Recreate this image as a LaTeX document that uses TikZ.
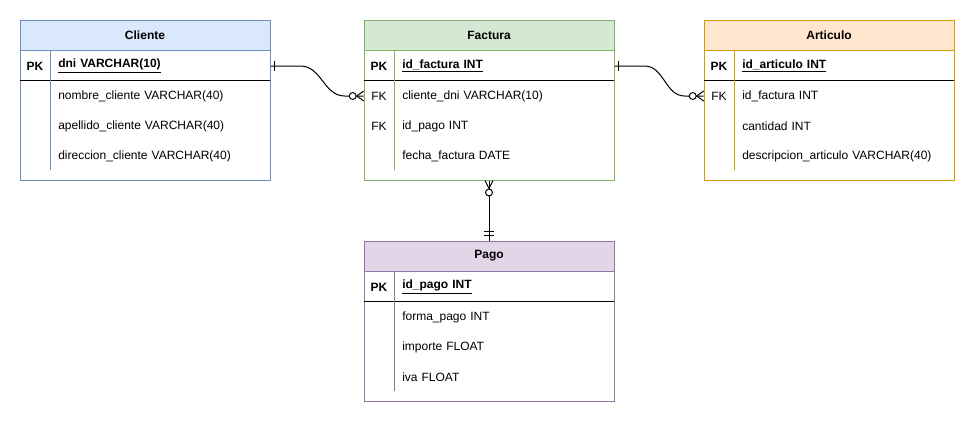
\documentclass[tikz,border=0pt]{standalone}
\usepackage{fontspec}
\setmainfont{Liberation Sans}
\usetikzlibrary{calc}
\definecolor{cliF}{HTML}{DAE8FC}\definecolor{cliS}{HTML}{6C8EBF}
\definecolor{facF}{HTML}{D5E8D4}\definecolor{facS}{HTML}{82B366}
\definecolor{artF}{HTML}{FFE6CC}\definecolor{artS}{HTML}{D79B00}
\definecolor{pagF}{HTML}{E1D5E7}\definecolor{pagS}{HTML}{9673A6}
\tikzset{
  tbox/.style={draw, line width=0.75pt, fill=white, minimum width=187.5pt, minimum height=120pt, inner sep=0pt},
  thdr/.style={draw, line width=0.75pt, minimum width=187.5pt, minimum height=22.5pt, inner sep=0pt, font=\fontsize{9pt}{11pt}\selectfont\bfseries},
  hsep/.style={line width=0.75pt, draw=black},
  vsep/.style={line width=0.75pt},
  keyc/.style={minimum width=22.5pt, inner sep=0pt, font=\fontsize{9pt}{11pt}\selectfont},
  fld/.style={anchor=west, inner sep=0pt, text width=159pt, align=left, font=\fontsize{9pt}{11pt}\selectfont},
  conn/.style={line width=0.75pt, draw=black},
}
\newcommand{\erframe}[6]{%
  \node[tbox, draw=#5] (#1) at (#2+125,#3+80) {};
  \node[thdr, fill=#4, draw=#5] (#1h) at (#2+125,#3+15) {#6};
  \draw[hsep] (#2,#3+60) -- (#2+250,#3+60);
  \draw[vsep, draw=#5] (#2+30,#3+30) -- (#2+30,#3+150);
}
\begin{document}
\begin{tikzpicture}[x=0.75pt,y=-0.75pt]
\useasboundingbox (0,0) rectangle (975,422);

% Cliente
\erframe{cli}{20}{20}{cliF}{cliS}{Cliente}
\node[keyc] (cliK0) at (35,66) {\textbf{PK}};
\node[fld] (cliF0) at (58,66) {\underline{\textbf{dni VARCHAR(10)}}};
\node[fld] (cliF1) at (58,96) {nombre\_cliente VARCHAR(40)};
\node[fld] (cliF2) at (58,126) {apellido\_cliente VARCHAR(40)};
\node[fld] (cliF3) at (58,156) {direccion\_cliente VARCHAR(40)};

% Factura
\erframe{fac}{364}{20}{facF}{facS}{Factura}
\node[keyc] (facK0) at (379,66) {\textbf{PK}};
\node[keyc] (facK1) at (379,96) {FK};
\node[keyc] (facK2) at (379,126) {FK};
\node[fld] (facF0) at (402,66) {\underline{\textbf{id\_factura INT}}};
\node[fld] (facF1) at (402,96) {cliente\_dni VARCHAR(10)};
\node[fld] (facF2) at (402,126) {id\_pago INT};
\node[fld] (facF3) at (402,156) {fecha\_factura DATE};

% Articulo
\erframe{art}{704}{20}{artF}{artS}{Articulo}
\node[keyc] (artK0) at (719,66) {\textbf{PK}};
\node[keyc] (artK1) at (719,96) {FK};
\node[fld] (artF0) at (742,66) {\underline{\textbf{id\_articulo INT}}};
\node[fld] (artF1) at (742,96) {id\_factura INT};
\node[fld] (artF2) at (742,126) {cantidad INT};
\node[fld] (artF3) at (742,156) {descripcion\_articulo VARCHAR(40)};

% Pago
\erframe{pag}{364}{241}{pagF}{pagS}{Pago}
\node[keyc] (pagK0) at (379,287) {\textbf{PK}};
\node[fld] (pagF0) at (402,287) {\underline{\textbf{id\_pago INT}}};
\node[fld] (pagF1) at (402,317) {forma\_pago INT};
\node[fld] (pagF2) at (402,347) {importe FLOAT};
\node[fld] (pagF3) at (402,377) {iva FLOAT};

% Cliente -> Factura
\draw[conn] (cliF0.east) -- ++(30,0) to[out=0,in=180] ($(facK1.west)+(-19,0)$) -- (facK1.west);
\draw[conn] ($(cliF0.east)+(4,-5)$) -- ++(0,10);
\draw[conn] ($(facK1.west)+(-7,0)$) -- ($(facK1.west)+(0,-5)$);
\draw[conn] ($(facK1.west)+(-7,0)$) -- ($(facK1.west)+(0,5)$);
\draw[conn, fill=white] ($(facK1.west)+(-11,0)$) circle[radius=2.6pt];

% Factura -> Articulo
\draw[conn] (facF0.east) -- ++(30,0) to[out=0,in=180] ($(artK1.west)+(-19,0)$) -- (artK1.west);
\draw[conn] ($(facF0.east)+(4,-5)$) -- ++(0,10);
\draw[conn] ($(artK1.west)+(-7,0)$) -- ($(artK1.west)+(0,-5)$);
\draw[conn] ($(artK1.west)+(-7,0)$) -- ($(artK1.west)+(0,5)$);
\draw[conn, fill=white] ($(artK1.west)+(-11,0)$) circle[radius=2.6pt];

% Factura -> Pago
\draw[conn] (fac.south) -- (pagh.north);
\draw[conn] ($(fac.south)+(0,8)$) -- ($(fac.south)+(-4,0)$);
\draw[conn] ($(fac.south)+(0,8)$) -- ($(fac.south)+(4,0)$);
\draw[conn, fill=white] ($(fac.south)+(0,12)$) circle[radius=2.6pt];
\draw[conn] ($(pagh.north)+(-5,-5)$) -- ++(10,0);
\draw[conn] ($(pagh.north)+(-5,-9)$) -- ++(10,0);
\end{tikzpicture}
\end{document}
